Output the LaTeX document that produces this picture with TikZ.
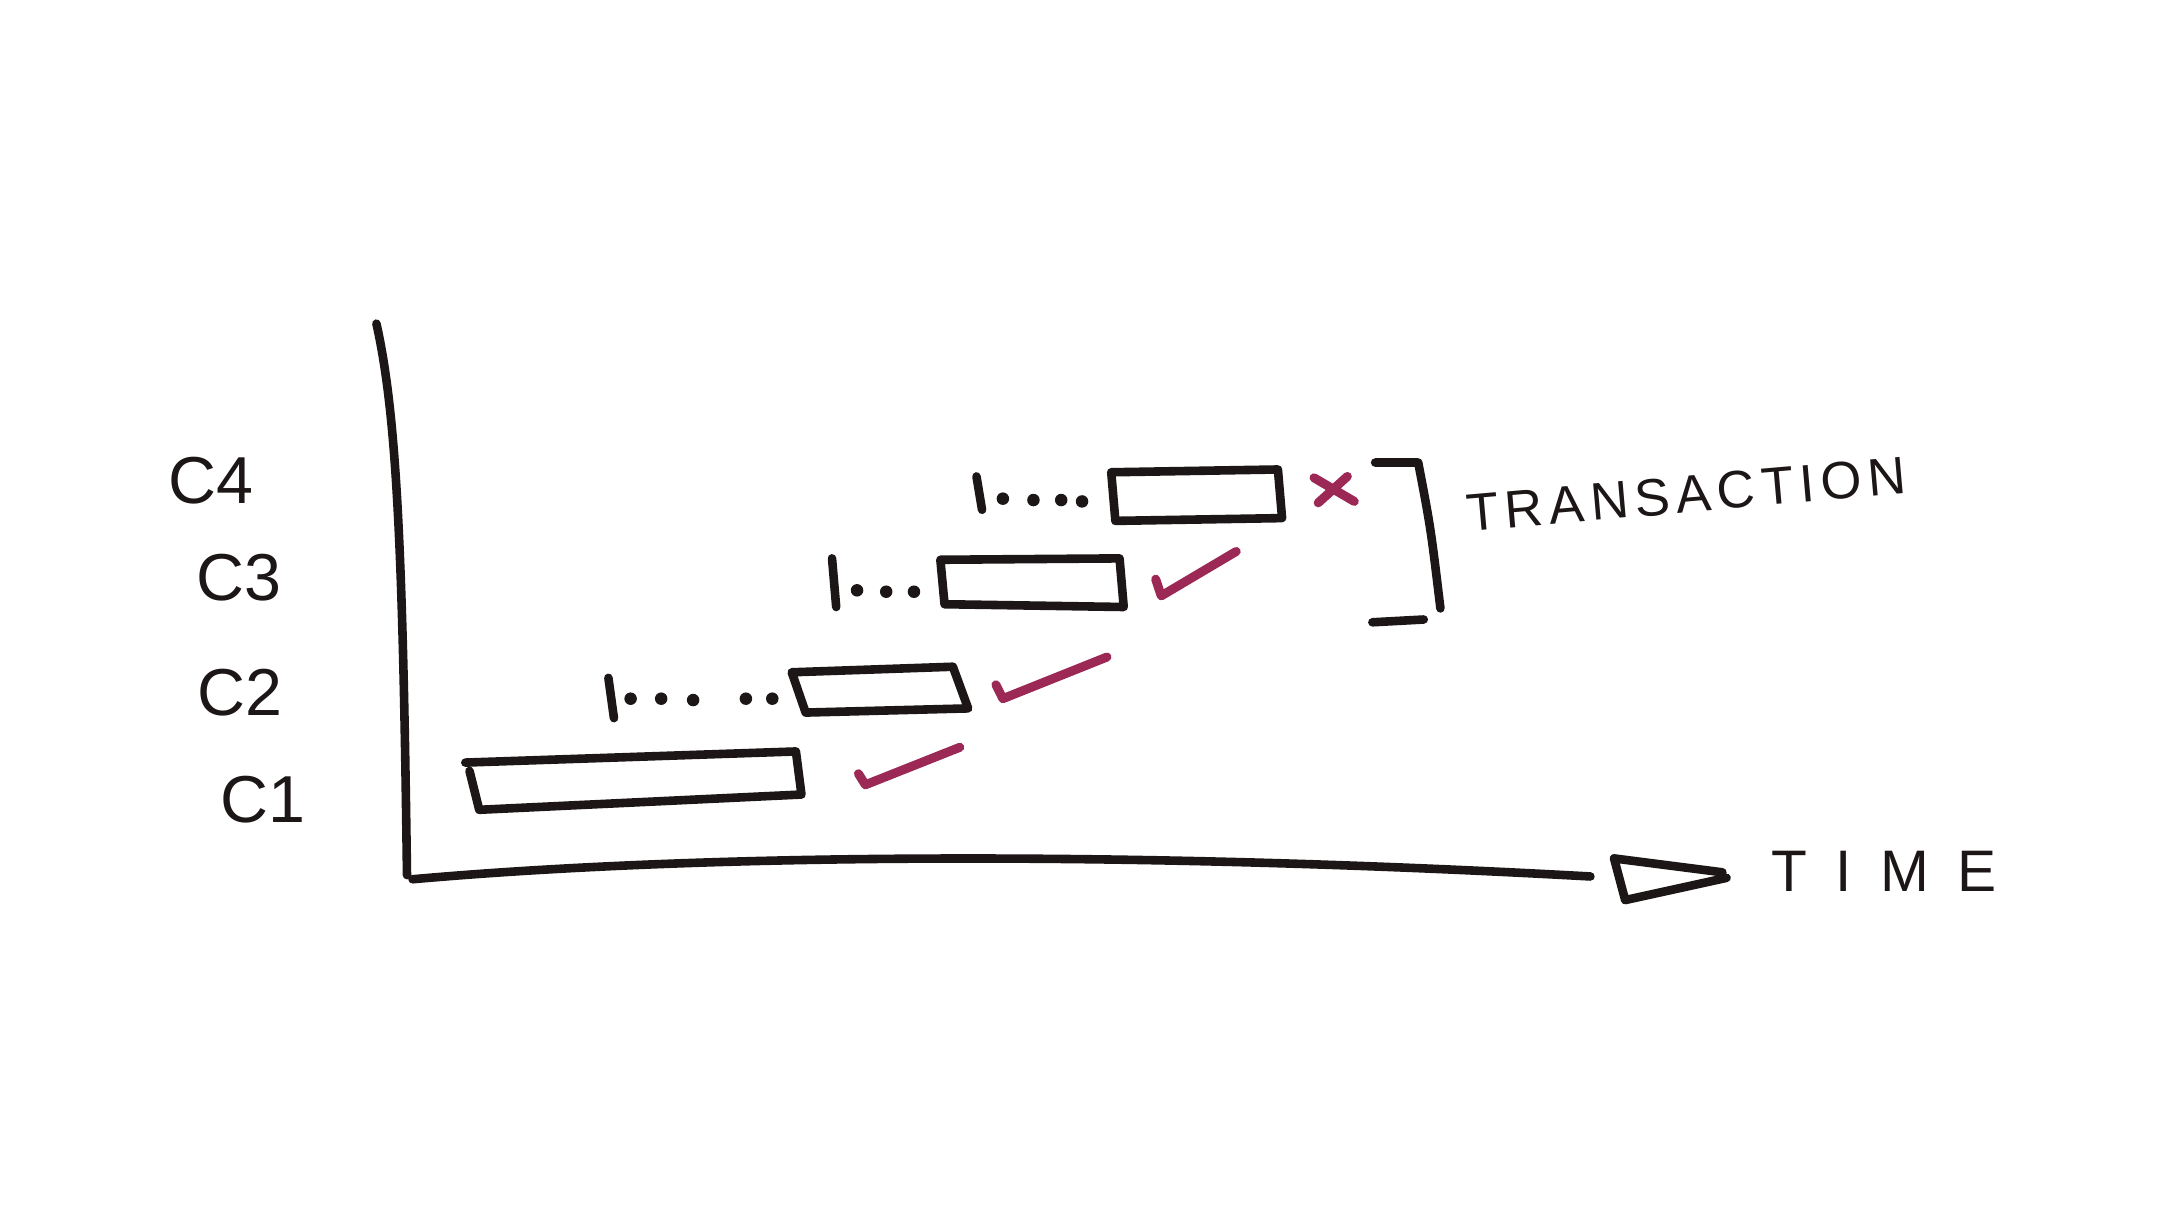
\documentclass[tikz,border=0pt]{standalone}
\usepackage{fontspec}
\setmainfont{Liberation Sans}
\definecolor{ink}{RGB}{28,22,22}
\definecolor{mark}{RGB}{155,40,85}
\begin{document}
\begin{tikzpicture}[x=0.0125cm,y=-0.0125cm,
  pen/.style={draw=ink,line width=2.2pt,line cap=round,line join=round},
  redpen/.style={draw=mark,line width=2.3pt,line cap=round,line join=round},
  lab/.style={text=ink,font=\fontsize{17}{17}\selectfont,inner sep=0pt},
  dotm/.style={fill=ink,circle,inner sep=0pt,minimum size=3.2pt}]
\useasboundingbox (0,0) rectangle (1568,877);
\fill[white] (0,0) rectangle (1568,877);
% axes
\draw[pen] (271,233) .. controls (286,300) and (290,400) .. (293,630);
\draw[pen] (297,633) .. controls (500,615) and (800,612) .. (1145,631);
\draw[pen] (1162,618) -- (1170,648) -- (1243,632);
\draw[pen] (1162,618) -- (1240,628);
\node[text=ink,font=\fontsize{15}{15}\selectfont\addfontfeature{LetterSpace=48},inner sep=0pt,anchor=west] (time) at (1275,627) {TIME};
% client labels
\node[lab] (c4) at (152,346) {C4};
\node[lab] (c3) at (172,416) {C3};
\node[lab] (c2) at (173,499) {C2};
\node[lab] (c1) at (189,576) {C1};
% boxes
\draw[pen] (335,549) -- (573,541) -- (577,572) -- (345,583) -- (338,555);
\draw[pen] (570,484) -- (686,480) -- (697,510) -- (580,513) -- cycle;
\draw[pen] (677,403) -- (806,402) -- (809,437) -- (680,435) -- cycle;
\draw[pen] (800,340) -- (920,338) -- (923,373) -- (803,375) -- cycle;
% dots
\draw[pen] (438,488) -- (442,517);
\node[dotm] (d21) at (454,503) {};
\node[dotm] (d22) at (476,503) {};
\node[dotm] (d23) at (499,504) {};
\node[dotm] (d24) at (537,503) {};
\node[dotm] (d25) at (556,503) {};
\draw[pen] (599,402) -- (602,437);
\node[dotm] (d31) at (617,425) {};
\node[dotm] (d32) at (638,426) {};
\node[dotm] (d33) at (658,426) {};
\draw[pen] (703,343) -- (707,367);
\node[dotm] (d41) at (722,359) {};
\node[dotm] (d42) at (744,360) {};
\node[dotm] (d43) at (764,360) {};
\node[dotm] (d44) at (779,361) {};
% checks and cross
\draw[redpen] (618,557) -- (623,565) -- (691,538);
\draw[redpen] (717,493) -- (722,503) -- (797,473);
\draw[redpen] (832,417) -- (836,429) -- (890,397);
\draw[redpen] (946,344) -- (975,361);
\draw[redpen] (949,362) -- (970,343);
% bracket
\draw[pen] (990,333) -- (1021,333) .. controls (1030,380) .. (1037,438);
\draw[pen] (988,448) -- (1025,446);
\node[text=ink,font=\fontsize{13.5}{13.5}\selectfont\addfontfeature{LetterSpace=12},inner sep=0pt,rotate=5,anchor=center] (trans) at (1214,356) {TRANSACTION};
\end{tikzpicture}
\end{document}
